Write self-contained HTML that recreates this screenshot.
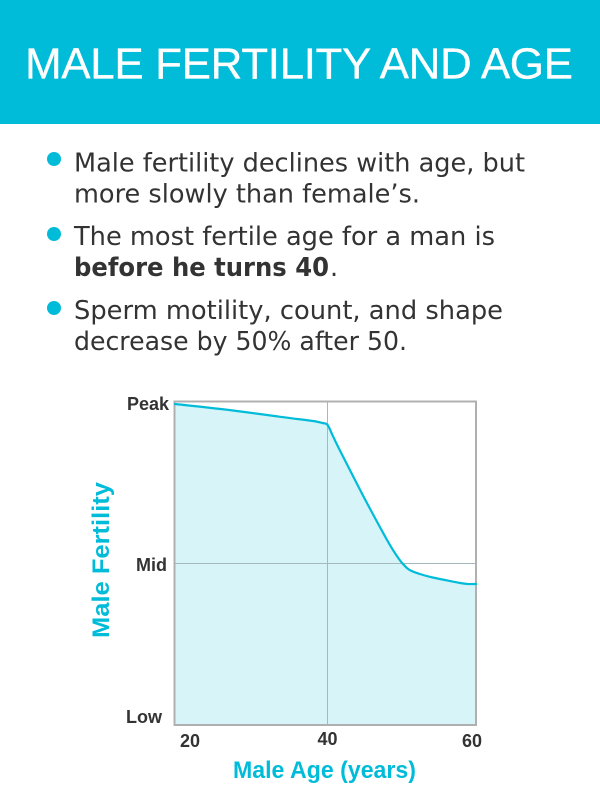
<!DOCTYPE html>
<html>
<head>
<meta charset="utf-8">
<title>Male Fertility and Age</title>
<style>
html,body{margin:0;padding:0;background:#fff;}
svg{display:block;}
.body-text{font-family:"DejaVu Sans","Liberation Sans",sans-serif;font-size:25.5px;fill:#333;}
.tick{font-family:"Liberation Sans","DejaVu Sans",sans-serif;font-size:18px;font-weight:bold;fill:#333;}
.axis-title{font-family:"Liberation Sans","DejaVu Sans",sans-serif;font-size:24px;font-weight:bold;fill:#00bcd9;}
</style>
</head>
<body>
<svg id="page" width="600" height="800" viewBox="0 0 600 800" xmlns="http://www.w3.org/2000/svg">
  <rect x="0" y="0" width="600" height="124" fill="#00bcd9"/>
  <text x="25" y="78.5" textLength="548" lengthAdjust="spacing" font-family="'Liberation Sans',sans-serif" font-size="44" fill="#fff" stroke="#fff" stroke-width="0.25">MALE FERTILITY AND AGE</text>

  <circle cx="54" cy="159" r="7" fill="#00bcd9"/>
  <text class="body-text" x="74" y="171.5" textLength="451" lengthAdjust="spacingAndGlyphs">Male fertility declines with age, but</text>
  <text class="body-text" x="74" y="202.5" textLength="346" lengthAdjust="spacingAndGlyphs">more slowly than female’s.</text>

  <circle cx="54" cy="234" r="7" fill="#00bcd9"/>
  <text class="body-text" x="74" y="245" textLength="421" lengthAdjust="spacingAndGlyphs">The most fertile age for a man is</text>
  <text class="body-text" x="74" y="276" textLength="255" lengthAdjust="spacingAndGlyphs" font-weight="bold">before he turns 40</text>
  <text class="body-text" x="330" y="276">.</text>

  <circle cx="54" cy="308" r="7" fill="#00bcd9"/>
  <text class="body-text" x="74" y="319" textLength="429" lengthAdjust="spacingAndGlyphs">Sperm motility, count, and shape</text>
  <text class="body-text" x="74" y="350" textLength="333" lengthAdjust="spacingAndGlyphs">decrease by 50% after 50.</text>

  <g id="chart"></g>
</svg>
<script>
var ages = [20, 27.2, 33.8, 38.1, 39.3, 40, 40.7, 41.6, 44.7, 47.8, 49.1, 49.9, 50.8, 52.1, 53.8, 55.7, 57.4, 58.4, 59.5];
var fertility = [99.7, 97.8, 95.7, 94.4, 93.8, 93.2, 89.8, 85.4, 71.1, 57.5, 52.5, 50, 48.1, 46.9, 45.8, 44.9, 44.1, 43.8, 43.8];
var xTickValues = [20, 40, 60];
var xTickLabels = ['20', '40', '60'];
var yTickValues = [100, 50, 0];
var yTickLabels = ['Peak', 'Mid', 'Low'];
var xGridValues = [40];
var yGridValues = [50];

var NS = 'http://www.w3.org/2000/svg';
var chart = document.getElementById('chart');
var plotLeft = 175, plotRight = 476, plotTop = 401.5, plotBottom = 725;

function xScale(age) { return 175 + (age - 20) * 7.625; }
function yScale(value) { return 725 - value * 3.22; }
function make(tag, attrs, parent) {
  var el = document.createElementNS(NS, tag);
  for (var k in attrs) { el.setAttribute(k, attrs[k]); }
  (parent || chart).appendChild(el);
  return el;
}

var coords = ages.map(function (a, i) { return [xScale(a), yScale(fertility[i])]; });
function smoothPath(p) {
  var d = 'M' + p[0][0].toFixed(1) + ' ' + p[0][1].toFixed(1);
  for (var i = 0; i < p.length - 1; i++) {
    var p0 = p[Math.max(i - 1, 0)], p1 = p[i], p2 = p[i + 1], p3 = p[Math.min(i + 2, p.length - 1)];
    var c1x = p1[0] + (p2[0] - p0[0]) / 6, c1y = p1[1] + (p2[1] - p0[1]) / 6;
    var c2x = p2[0] - (p3[0] - p1[0]) / 6, c2y = p2[1] - (p3[1] - p1[1]) / 6;
    d += 'C' + c1x.toFixed(1) + ' ' + c1y.toFixed(1) + ' ' + c2x.toFixed(1) + ' ' + c2y.toFixed(1) + ' ' + p2[0].toFixed(1) + ' ' + p2[1].toFixed(1);
  }
  return d;
}
var curveD = smoothPath(coords);

var area = make('path', {
  d: curveD + 'L' + plotRight + ' ' + plotBottom + 'L' + plotLeft + ' ' + plotBottom + 'Z',
  fill: '#d7f4f9'
});



xGridValues.forEach(function (v) {
  var g = make('line', { x1: xScale(v), x2: xScale(v), y1: plotTop, y2: plotBottom, stroke: '#a5b8bc', 'stroke-width': 1 });
  
  
});
yGridValues.forEach(function (v) {
  var g = make('line', { x1: plotLeft, x2: plotRight, y1: yScale(v) - 0.5, y2: yScale(v) - 0.5, stroke: '#a5b8bc', 'stroke-width': 1 });
  
  
});

var frame = make('rect', { x: 174.5, y: 401.5, width: 301.5, height: 323.5, fill: 'none', stroke: '#b0b0b0', 'stroke-width': 2 });



var line = make('path', {
  d: curveD, fill: 'none', stroke: '#00bcd9', 'stroke-width': 2.2, 'stroke-linejoin': 'round', 'stroke-linecap': 'round'
});



xTickValues.forEach(function (v, i) {
  var shift = i === 0 ? 15 : (i === 2 ? -8 : 0);
  var yPos = i === 1 ? 745 : 747;
  var t = make('text', { x: Math.min(xScale(v), 480) + shift, y: yPos, 'text-anchor': 'middle', 'class': 'tick' });
  t.textContent = xTickLabels[i];
  
  
});
yTickValues.forEach(function (v, i) {
  var endX = i === 0 ? 169 : (i === 1 ? 167 : 162);
  var baseY = i === 2 ? yScale(v) - 2 : yScale(v) + 7;
  var t = make('text', { x: endX, y: baseY, 'text-anchor': 'end', 'class': 'tick' });
  t.textContent = yTickLabels[i];
  
  
});

var xTitle = make('text', { x: 233, y: 778, textLength: 183, lengthAdjust: 'spacingAndGlyphs', 'class': 'axis-title' });
xTitle.textContent = 'Male Age (years)';



var yTitle = make('text', { x: 0, y: 0, transform: 'translate(109,638) rotate(-90)', textLength: 156, lengthAdjust: 'spacingAndGlyphs', 'class': 'axis-title' });
yTitle.textContent = 'Male Fertility';


</script>
</body>
</html>
